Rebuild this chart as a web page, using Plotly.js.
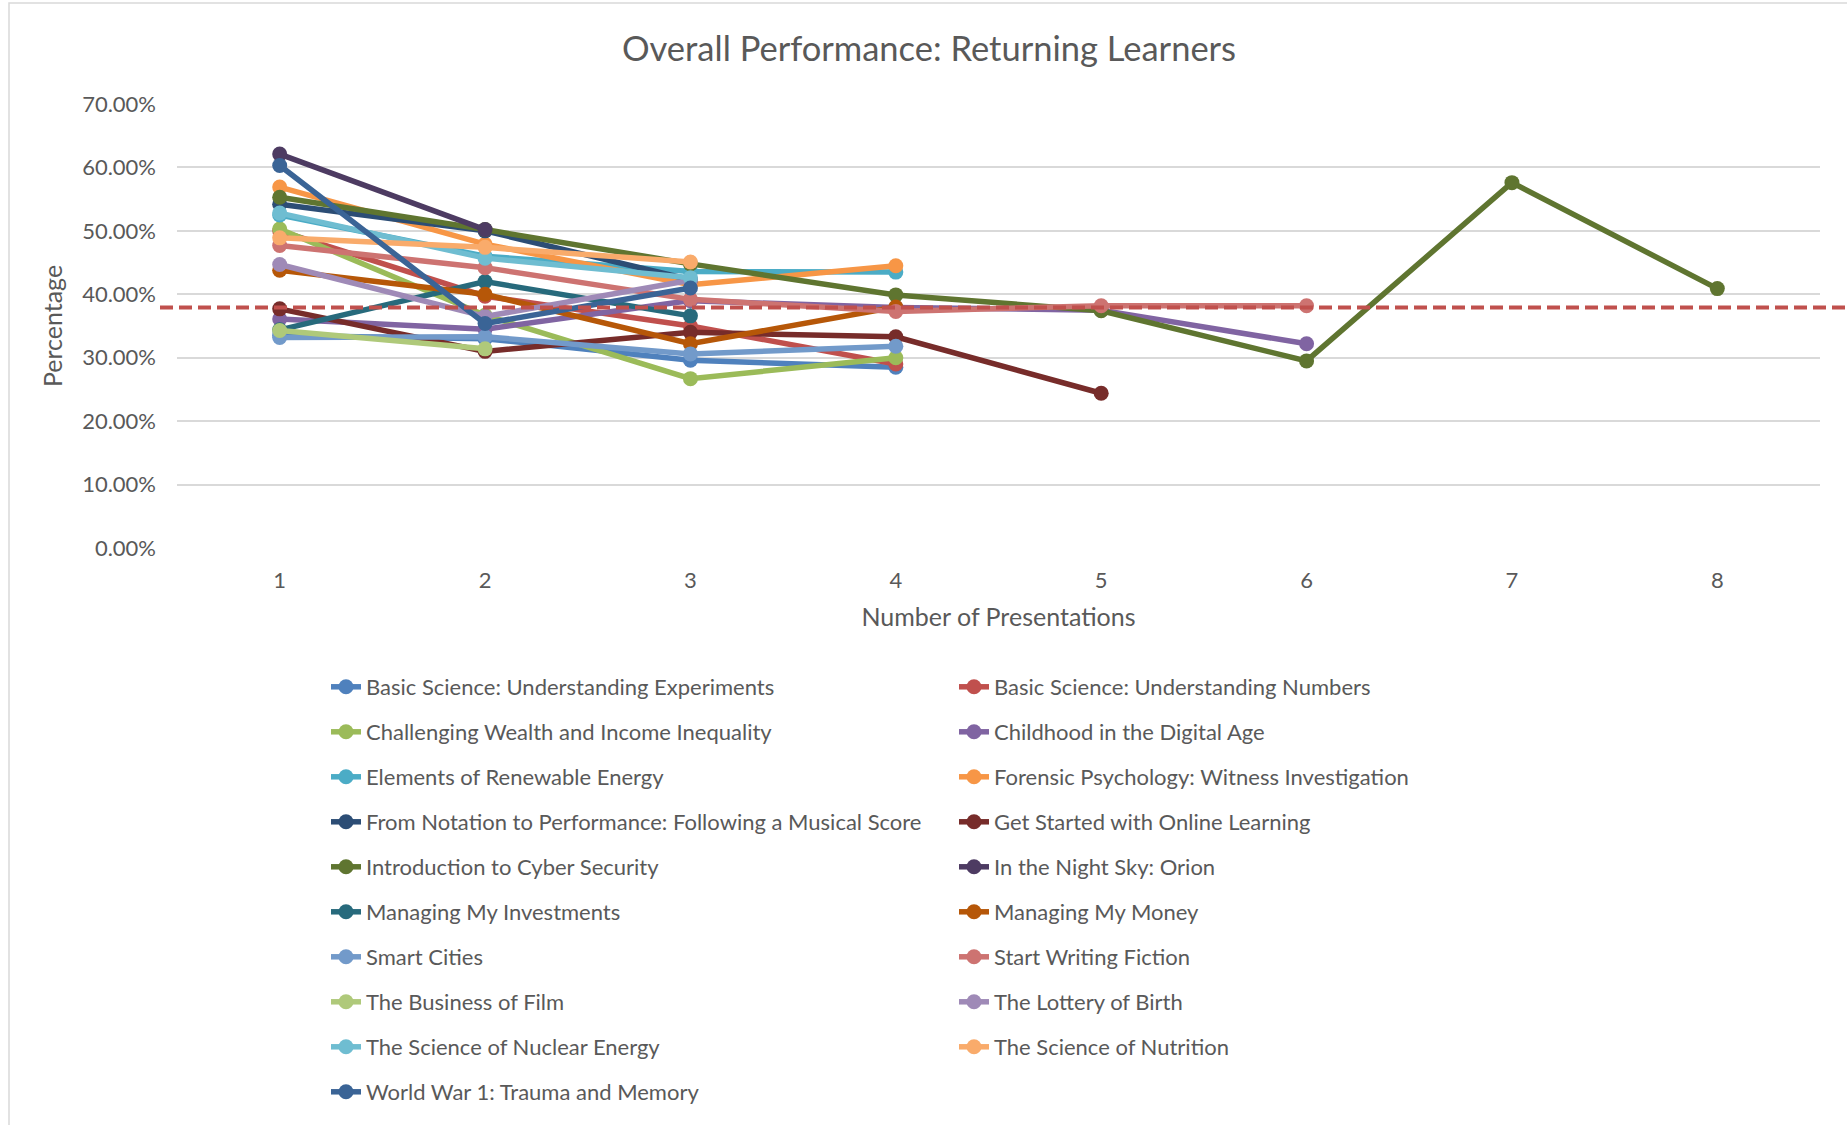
<!DOCTYPE html>
<html>
<head>
<meta charset="utf-8">
<script src="https://cdn.plot.ly/plotly-3.0.1.min.js"></script>
<style>html,body{margin:0;padding:0;background:#fff;}#chart{width:1847px;height:1125px;}</style>
</head>
<body>
<div id="chart"></div>
<script>
// ---- Data ----
const presentations = [1, 2, 3, 4, 5, 6, 7, 8];
const courseNames = [
  "Basic Science: Understanding Experiments",
  "Basic Science: Understanding Numbers",
  "Challenging Wealth and Income Inequality",
  "Childhood in the Digital Age",
  "Elements of Renewable Energy",
  "Forensic Psychology: Witness Investigation",
  "From Notation to Performance: Following a Musical Score",
  "Get Started with Online Learning",
  "Introduction to Cyber Security",
  "In the Night Sky: Orion",
  "Managing My Investments",
  "Managing My Money",
  "Smart Cities",
  "Start Writing Fiction",
  "The Business of Film",
  "The Lottery of Birth",
  "The Science of Nuclear Energy",
  "The Science of Nutrition",
  "World War 1: Trauma and Memory"
];
const basicExperiments   = [0.335, 0.330, 0.296, 0.285];
const basicNumbers       = [0.500, 0.397, 0.350, 0.290];
const challengingWealth  = [0.503, 0.367, 0.267, 0.300];
const childhoodDigital   = [0.361, 0.345, 0.390, 0.379, 0.375, 0.322];
const renewableEnergy    = [0.525, 0.460, 0.436, 0.435];
const forensicPsychology = [0.569, 0.479, 0.415, 0.445];
const notationPerformance= [0.542, 0.500, 0.423];
const onlineLearning     = [0.377, 0.310, 0.340, 0.333, 0.244];
const cyberSecurity      = [0.553, 0.502, 0.448, 0.399, 0.374, 0.295, 0.576, 0.409];
const nightSkyOrion      = [0.621, 0.502];
const myInvestments      = [0.344, 0.420, 0.366];
const myMoney            = [0.438, 0.400, 0.322, 0.380];
const smartCities        = [0.332, 0.333, 0.306, 0.318];
const writingFiction     = [0.477, 0.442, 0.392, 0.373, 0.382, 0.382];
const businessFilm       = [0.343, 0.314];
const lotteryBirth       = [0.447, 0.365, 0.422];
const nuclearEnergy      = [0.528, 0.457, 0.426];
const scienceNutrition   = [0.489, 0.474, 0.451];
const worldWar1          = [0.603, 0.354, 0.410];
const averagePerformance = 0.379;
const yTicks = [0, 0.1, 0.2, 0.3, 0.4, 0.5, 0.6, 0.7];

const seriesValues = [basicExperiments, basicNumbers, challengingWealth, childhoodDigital,
  renewableEnergy, forensicPsychology, notationPerformance, onlineLearning, cyberSecurity,
  nightSkyOrion, myInvestments, myMoney, smartCities, writingFiction, businessFilm,
  lotteryBirth, nuclearEnergy, scienceNutrition, worldWar1];

// ---- Styles ----
const colors = ["#4F81BD", "#C0504D", "#9BBB59", "#8064A2", "#4BACC6", "#F79646",
  "#2C4D75", "#772C2A", "#5F7530", "#4D3B62", "#276A7C", "#B65708",
  "#729ACA", "#CD7371", "#AFC97A", "#9F8AB7", "#6FBDD1", "#F9AB6B", "#3A6496"];

const FONT = "Lato, 'Open Sans', sans-serif";
const TXT = "#595959";

const traces = seriesValues.map((vals, i) => ({
  type: "scatter",
  mode: "lines+markers",
  name: courseNames[i],
  x: presentations.slice(0, vals.length),
  y: vals,
  line: { color: colors[i], width: 5.5 },
  marker: { color: colors[i], size: 15 },
  legend: i % 2 === 0 ? "legend" : "legend2",
  legendgroup: "g" + i,
  hovertemplate: "%{y:.2%}<extra>" + courseNames[i] + "</extra>"
}));

// plot area geometry (px)
const L = 177, R = 1820, T = 104, B = 548, W = 1847, H = 1125;
const pw = R - L, ph = B - T;
const px = v => (v - L) / pw;
const py = v => (B - v) / ph;

const legendCommon = {
  orientation: "v",
  font: { family: FONT, size: 22, color: TXT },
  bgcolor: "rgba(0,0,0,0)",
  borderwidth: 0,
  tracegroupgap: 13.4,
  xanchor: "left",
  yanchor: "top",
  traceorder: "grouped"
};

const layout = {
  width: W, height: H,
  paper_bgcolor: "#fff", plot_bgcolor: "#fff",
  margin: { l: L, r: W - R, t: T, b: H - B, autoexpand: false },
  font: { family: FONT, color: TXT },
  title: {
    text: "Overall Performance: Returning Learners",
    font: { family: FONT, size: 34.5, color: TXT },
    x: 929 / W, xref: "container", xanchor: "center",
    y: 1 - 49 / H, yref: "container", yanchor: "middle"
  },
  xaxis: {
    range: [0.5, 8.5],
    tickvals: presentations,
    ticktext: presentations.map(String),
    showgrid: false, zeroline: false, showline: false, ticks: "",
    tickfont: { family: FONT, size: 22, color: TXT },
    ticklabelstandoff: 17,
    title: { text: "Number of Presentations", font: { family: FONT, size: 25, color: TXT }, standoff: 16 }
  },
  yaxis: {
    range: [0, 0.7],
    tickvals: yTicks,
    tickformat: ".2%",
    showgrid: true, gridcolor: "#D9D9D9", gridwidth: 1.8,
    zeroline: false, showline: false, ticks: "",
    tickfont: { family: FONT, size: 22, color: TXT },
    ticklabelstandoff: 20,
    title: { text: "Percentage", font: { family: FONT, size: 25, color: TXT }, standoff: 12 }
  },
  legend: Object.assign({}, legendCommon, { x: px(326), y: py(666) }),
  legend2: Object.assign({}, legendCommon, { x: px(954), y: py(666) }),
  shapes: [
    {
      type: "line", xref: "paper", yref: "y",
      x0: px(160), x1: px(1847), y0: averagePerformance, y1: averagePerformance,
      line: { color: "#C0504D", width: 4, dash: "13px,6px" }, layer: "above"
    },
    {
      type: "rect", xref: "paper", yref: "paper",
      x0: px(9), x1: px(1870), y0: py(3), y1: py(1140),
      line: { color: "#D9D9D9", width: 1.5 }, fillcolor: "rgba(0,0,0,0)", layer: "below"
    }
  ],
  showlegend: true
};

Plotly.newPlot("chart", traces, layout, { displayModeBar: false, responsive: false });
</script>
</body>
</html>
